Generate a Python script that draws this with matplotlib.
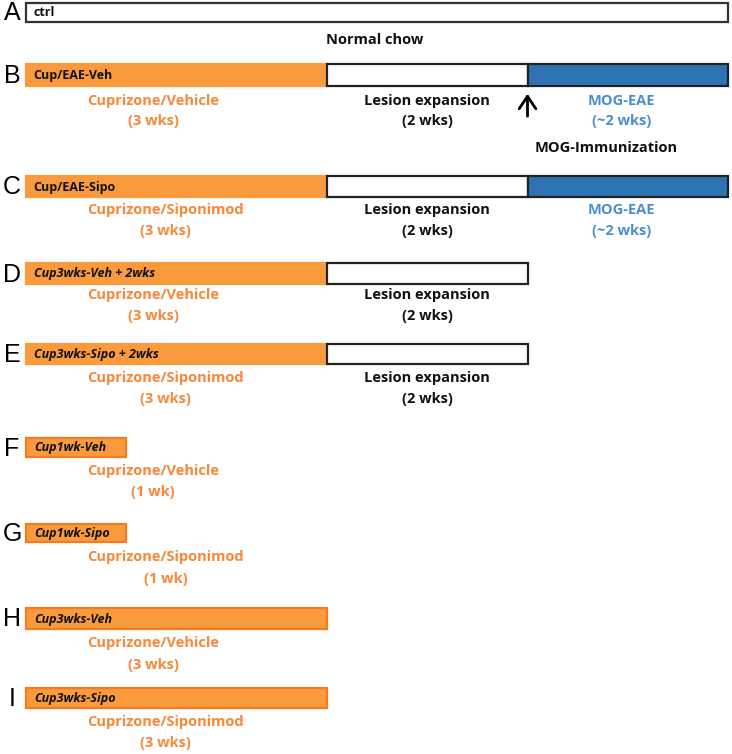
import matplotlib
matplotlib.use("Agg")
import matplotlib.pyplot as plt
from matplotlib.patches import FancyArrowPatch

# ---------------- data ----------------
panels = ["A", "B", "C", "D", "E", "F", "G", "H", "I"]
group_names = ["ctrl", "Cup/EAE-Veh", "Cup/EAE-Sipo", "Cup3wks-Veh + 2wks",
               "Cup3wks-Sipo + 2wks", "Cup1wk-Veh", "Cup1wk-Sipo",
               "Cup3wks-Veh", "Cup3wks-Sipo"]
treatments = ["", "Vehicle", "Siponimod", "Vehicle", "Siponimod",
              "Vehicle", "Siponimod", "Vehicle", "Siponimod"]
chow_weeks = [7, 0, 0, 0, 0, 0, 0, 0, 0]
cuprizone_weeks = [0, 3, 3, 3, 3, 1, 1, 3, 3]
lesion_weeks = [0, 2, 2, 2, 2, 0, 0, 0, 0]
eae_weeks = [0, 2, 2, 0, 0, 0, 0, 0, 0]
cup_duration_text = ["", "(3 wks)", "(3 wks)", "(3 wks)", "(3 wks)",
                     "(1 wk)", "(1 wk)", "(3 wks)", "(3 wks)"]
lesion_text = ["Lesion expansion", "(2 wks)"]
eae_text = ["MOG-EAE", "(~2 wks)"]
chow_text = "Normal chow"
immun_text = "MOG-Immunization"

# ---------------- layout (pixels) ----------------
W, H = 732, 754
X0, PXW = 26.0, 100.3          # pixel of week 0, pixels per week
bar_top = [3, 64, 176, 263, 344, 438, 524, 608, 688]
bar_bot = [22, 86, 197, 284, 364, 457, 542, 629, 708]
lab1_y = [None, 101, 210, 295, 378, 471, 557, 643, 722]
lab2_y = [None, 121, 231, 316, 399, 492, 579, 665, 743]

ORANGE = "#F99B3D"
ORANGE_EDGE = "#F47B20"
ORANGE_TXT = "#F7883A"
BLUE = "#2E74B5"
BLUE_TXT = "#4A8ED0"

fig = plt.figure(figsize=(W / 100, H / 100), dpi=100)
ax = fig.add_axes([0, 0, 1, 1])
ax.set_xlim(-X0 / PXW, (W - X0) / PXW)
ax.set_ylim(H, 0)
ax.axis("off")


def wk(px):
    return (px - X0) / PXW


FONT = ["Open Sans", "DejaVu Sans"]
lab_fs = 10.5
inbar_fs = 9.0

for i, p in enumerate(panels):
    top, bot = bar_top[i], bar_bot[i]
    h = bot - top
    mid = (top + bot) / 2
    ax.text(wk(12), mid + 1, p, fontsize=18, family="Liberation Sans",
            ha="center", va="center", color="black")
    start = 0.0
    if chow_weeks[i]:
        ax.barh(mid, chow_weeks[i], left=start, height=h, color="white",
                edgecolor="#333333", linewidth=1.6)
        start += chow_weeks[i]
    if cuprizone_weeks[i]:
        edge = ORANGE if (lesion_weeks[i] or eae_weeks[i]) else ORANGE_EDGE
        ax.barh(mid, cuprizone_weeks[i], left=start, height=h, color=ORANGE,
                edgecolor=edge, linewidth=1.6)
        start += cuprizone_weeks[i]
    if lesion_weeks[i]:
        ax.barh(mid, lesion_weeks[i], left=start, height=h, color="white",
                edgecolor="#222222", linewidth=1.6)
        lmid = start + lesion_weeks[i] / 2
        ax.text(lmid, lab1_y[i], lesion_text[0], fontsize=lab_fs, family=FONT,
                fontweight="bold", ha="center", va="center", color="#111111")
        ax.text(lmid, lab2_y[i], lesion_text[1], fontsize=lab_fs, family=FONT,
                fontweight="bold", ha="center", va="center", color="#111111")
        start += lesion_weeks[i]
    if eae_weeks[i]:
        ax.barh(mid, eae_weeks[i], left=start, height=h, color=BLUE,
                edgecolor="#222222", linewidth=1.6)
        emid = start + eae_weeks[i] / 2 - 0.06
        ax.text(emid, lab1_y[i], eae_text[0], fontsize=lab_fs, family=FONT,
                fontweight="bold", ha="center", va="center", color=BLUE_TXT)
        ax.text(emid, lab2_y[i], eae_text[1], fontsize=lab_fs, family=FONT,
                fontweight="bold", ha="center", va="center", color=BLUE_TXT)
    # in-bar group label
    italic = i >= 3
    ax.text(wk(33 if i < 3 else 34), mid + 0.5, group_names[i], fontsize=inbar_fs,
            family=FONT, fontweight="bold",
            fontstyle="italic" if italic else "normal",
            ha="left", va="center", color="#111111")
    # cuprizone labels
    if cuprizone_weeks[i]:
        line1 = "Cuprizone/" + treatments[i]
        t = ax.text(wk(87), lab1_y[i], line1, fontsize=lab_fs, family=FONT,
                    fontweight="bold", ha="left", va="center", color=ORANGE_TXT)
        fig.canvas.draw()
        bb = t.get_window_extent()
        cx_px = (bb.x0 + bb.x1) / 2
        ax.text(wk(cx_px), lab2_y[i], cup_duration_text[i], fontsize=lab_fs,
                family=FONT, fontweight="bold", ha="center", va="center",
                color=ORANGE_TXT)

ax.text(wk(375), 40, chow_text, fontsize=lab_fs, family=FONT, fontweight="bold",
        ha="center", va="center", color="#111111")

# immunization arrow at start of EAE in panel B
arrow_x = cuprizone_weeks[1] + lesion_weeks[1]
ax.add_patch(FancyArrowPatch((arrow_x, 119), (arrow_x, 91),
                             arrowstyle="->,head_length=6,head_width=4",
                             lw=2, color="black", mutation_scale=1.5))
ax.text(wk(606), 148, immun_text, fontsize=lab_fs, family=FONT,
        fontweight="bold", ha="center", va="center", color="#111111")

fig.savefig("out.png", dpi=100)
